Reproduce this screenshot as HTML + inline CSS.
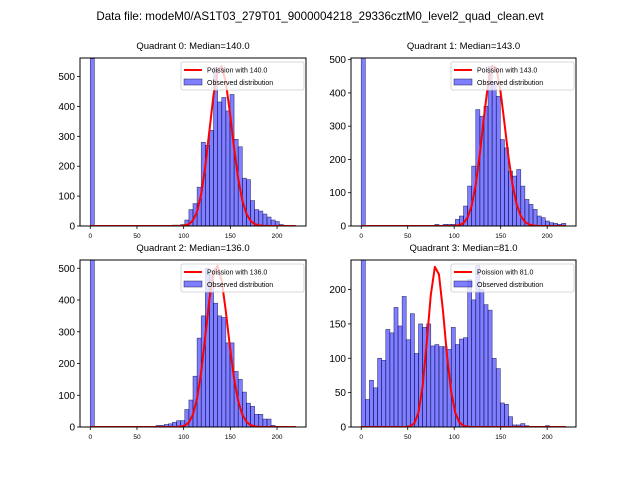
<!DOCTYPE html>
<html><head><meta charset="utf-8">
<style>
body{margin:0;background:#fff;}
svg{display:block;font-family:"Liberation Sans","DejaVu Sans",sans-serif;}
</style></head>
<body>
<svg id="fig" width="640" height="480" viewBox="0 0 640 480">
<rect width="640" height="480" fill="#fff"/>
<text x="320" y="20" font-size="11.6" text-anchor="middle">Data file: modeM0/AS1T03_279T01_9000004218_29336cztM0_level2_quad_clean.evt</text>
</svg>
<script>
const medians=[140,143,136,81];
const titles=["Quadrant 0: Median=140.0","Quadrant 1: Median=143.0","Quadrant 2: Median=136.0","Quadrant 3: Median=81.0"];
const curvePeaks=[535,482,508,233];
const yMax=[562,505,526,243];
const yTickStep=[100,100,100,50];
const xTicks=[0,50,100,150,200];
const counts0=[560,0,0,0,0,0,0,0,0,0,0,0,0,0,0,0,0,0,0,2,3,3,5,20,55,75,130,280,270,320,530,415,430,385,440,290,265,160,155,85,55,50,40,30,20,15,5,2,0,0];
const counts1=[510,0,0,0,0,0,0,0,0,0,0,0,0,0,0,0,0,0,5,0,5,5,5,20,30,60,120,180,350,330,360,480,430,390,260,235,165,150,170,120,80,65,50,30,25,15,10,8,5,8];
const counts2=[530,0,0,0,0,0,0,0,0,0,0,0,0,0,0,0,5,5,8,10,15,20,20,55,85,160,280,350,500,480,390,350,345,265,265,175,150,110,75,65,40,40,25,25,5,0,0,0,0,0];
const counts3=[243,40,68,57,100,97,142,137,174,147,190,127,165,107,150,145,150,118,120,117,117,113,145,120,128,130,215,185,235,200,178,170,100,85,35,33,15,3,3,5,2,0,0,0,0,2,0,0,0,0];
const allCounts=[counts0,counts1,counts2,counts3];
const binWidth=4.4;
const boxes=[[80,58,306,226],[351,58,576,226],[80,260,306,427],[351,260,576,427]];
const NS="http://www.w3.org/2000/svg";
const svg=document.getElementById('fig');
function mk(tag,attrs,parent){const e=document.createElementNS(NS,tag);for(const k in attrs)e.setAttribute(k,attrs[k]);(parent||svg).appendChild(e);return e;}
function lgam(x){ // ln Gamma(x), x>0
  if(x<7){let p=0;while(x<7){p-=Math.log(x);x+=1;}return p+lgam(x);}
  return (x-0.5)*Math.log(x)-x+0.5*Math.log(2*Math.PI)+1/(12*x)-1/(360*x*x*x);
}
for(let q=0;q<4;q++){
  const [x0,y0,x1,y1]=boxes[q];
  const g=mk('g',{});
  
  
  const xs=v=>x0+(v+11)/(242)*(x1-x0);
  const ys=v=>y1-Math.min(v,yMax[q])/yMax[q]*(y1-y0);
  const cp=mk('clipPath',{id:'c'+q},g);mk('rect',{x:x0,y:y0,width:x1-x0,height:y1-y0},cp);
  const bars=mk('g',{'clip-path':'url(#c'+q+')'},g);
  
  
  allCounts[q].forEach((c,i)=>{
    if(c<=0)return;
    const r=mk('rect',{x:xs(i*binWidth),y:ys(c),width:xs(binWidth)-xs(0),height:y1-ys(c),fill:'rgba(0,0,255,0.5)',stroke:'rgba(0,0,60,0.7)','stroke-width':0.6},bars);
    
    
  });
  // poisson sampled at bin edges
  const lam=medians[q];let pts=[];let mx=-1e9;
  for(let i=0;i<=50;i++){const k=i*binWidth;const v=k*Math.log(lam)-lam-lgam(k+1);pts.push([k,v]);if(v>mx)mx=v;}
  let d='';pts.forEach(([k,v],i)=>{d+=(i?'L':'M')+xs(k).toFixed(2)+','+ys(Math.exp(v-mx)*curvePeaks[q]).toFixed(2);});
  const pl=mk('path',{d:d,fill:'none',stroke:'#f00','stroke-width':2,'stroke-linejoin':'round','clip-path':'url(#c'+q+')'},g);
  
  
  mk('rect',{x:x0,y:y0,width:x1-x0,height:y1-y0,fill:'none',stroke:'#000','stroke-width':1},g);
  xTicks.forEach(t=>{const x=xs(t);mk('line',{x1:x,x2:x,y1:y1,y2:y1+3,stroke:'#000','stroke-width':0.8},g);
    const tx=mk('text',{x:x,y:y1+12,'font-size':6.5,'text-anchor':'middle'},g);tx.textContent=t;
    
    });
  for(let t=0;t<=yMax[q];t+=yTickStep[q]){const y=ys(t);mk('line',{x1:x0-3,x2:x0,y1:y,y2:y,stroke:'#000','stroke-width':0.8},g);
    const ty=mk('text',{x:x0-5,y:y+3.5,'font-size':10,'text-anchor':'end'},g);ty.textContent=t;
    
    }
  const tt=mk('text',{x:(x0+x1)/2,y:y0-9,'font-size':9.5,'text-anchor':'middle'},g);tt.textContent=titles[q];
  
  
  const lg=mk('g',{},g);
  
  
  const lx=x1-125,ly=y0+4;
  mk('rect',{x:lx,y:ly,width:123,height:28,fill:'rgba(255,255,255,0.8)',stroke:'#ccc','stroke-width':0.8,rx:2},lg);
  mk('line',{x1:lx+3,x2:lx+21,y1:ly+8,y2:ly+8,stroke:'#f00','stroke-width':2},lg);
  const l1=mk('text',{x:lx+26,y:ly+10.5,'font-size':7},lg);l1.textContent='Poission with '+medians[q].toFixed(1);
  mk('rect',{x:lx+3,y:ly+17,width:18,height:6,fill:'rgba(0,0,255,0.5)',stroke:'rgba(0,0,60,0.7)','stroke-width':0.6},lg);
  const l2=mk('text',{x:lx+26,y:ly+23,'font-size':7},lg);l2.textContent='Observed distribution';
}
</script>
</body></html>
